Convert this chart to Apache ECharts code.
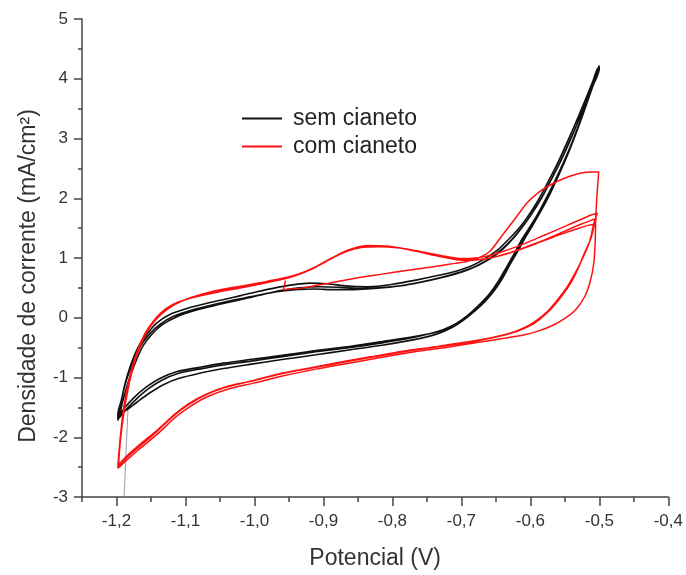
<!DOCTYPE html>
<html>
<head>
<meta charset="utf-8">
<script src="https://cdn.jsdelivr.net/npm/echarts@6/dist/echarts.min.js"></script>
<style>
  html, body { margin: 0; padding: 0; background: #fff; }
  #chart { width: 686px; height: 575px; }
</style>
</head>
<body>
<div id="chart"></div>
<script>
// Cyclic voltammograms: current density (mA/cm²) vs potential (V)

const seriesNames = ['sem cianeto', 'com cianeto'];
const xTickLabels = [-1.2, -1.1, -1.0, -0.9, -0.8, -0.7, -0.6, -0.5, -0.4];
const yTickLabels = [-3, -2, -1, 0, 1, 2, 3, 4, 5];

// first sweep start of the cyanide-free run (faint grey trace)
const semStart = [[-1.189, -3.0], [-1.186, -2.2], [-1.183, -1.45]];

// cyanide-free: three cycles, anodic branch then cathodic branch
const semCycle1 = [
  [-1.198,-1.72],[-1.194,-1.45],[-1.188,-1.12],[-1.179,-0.78],[-1.168,-0.48],[-1.155,-0.26],[-1.141,-0.08],[-1.122,0.06],
  [-1.097,0.16],[-1.07,0.24],[-1.046,0.30],[-1.02,0.37],[-0.998,0.43],[-0.97,0.50],[-0.945,0.55],[-0.92,0.58],
  [-0.895,0.57],[-0.865,0.53],[-0.835,0.52],[-0.80,0.56],[-0.766,0.63],[-0.733,0.71],[-0.708,0.78],[-0.685,0.87],
  [-0.666,0.99],[-0.646,1.15],[-0.63,1.33],[-0.613,1.55],[-0.60,1.76],[-0.588,1.98],[-0.575,2.26],[-0.56,2.60],
  [-0.545,2.98],[-0.530,3.38],[-0.515,3.80],[-0.502,4.17],
  [-0.500,4.22],[-0.512,3.80],[-0.525,3.38],[-0.538,2.98],[-0.552,2.60],[-0.565,2.28],[-0.578,1.98],[-0.590,1.72],
  [-0.603,1.48],[-0.613,1.30],[-0.623,1.08],[-0.635,0.84],[-0.646,0.62],[-0.658,0.42],[-0.672,0.24],[-0.685,0.10],
  [-0.699,-0.03],[-0.715,-0.14],[-0.737,-0.24],[-0.77,-0.33],[-0.815,-0.42],[-0.863,-0.50],[-0.911,-0.57],[-0.96,-0.65],
  [-1.007,-0.73],[-1.045,-0.79],[-1.08,-0.86],[-1.11,-0.93],[-1.135,-1.05],[-1.155,-1.20],[-1.172,-1.37],[-1.187,-1.55],
  [-1.198,-1.70]
];
const semCycle2 = [
  [-1.198,-1.62],[-1.193,-1.38],[-1.186,-1.06],[-1.176,-0.74],[-1.165,-0.47],[-1.152,-0.27],[-1.137,-0.11],[-1.118,0.02],
  [-1.093,0.12],[-1.066,0.20],[-1.04,0.27],[-1.015,0.33],[-0.99,0.39],[-0.965,0.44],[-0.94,0.47],[-0.912,0.48],
  [-0.885,0.47],[-0.855,0.47],[-0.825,0.49],[-0.79,0.53],[-0.757,0.60],[-0.727,0.68],[-0.703,0.76],[-0.681,0.85],
  [-0.662,0.97],[-0.643,1.13],[-0.627,1.31],[-0.611,1.53],[-0.598,1.74],[-0.586,1.96],[-0.573,2.24],[-0.558,2.58],
  [-0.543,2.96],[-0.528,3.36],[-0.514,3.77],[-0.502,4.12],
  [-0.501,4.16],[-0.511,3.84],[-0.523,3.44],[-0.536,3.04],[-0.549,2.66],[-0.562,2.32],[-0.575,2.02],[-0.587,1.76],
  [-0.600,1.50],[-0.611,1.30],[-0.621,1.08],[-0.632,0.86],[-0.643,0.64],[-0.655,0.44],[-0.669,0.25],[-0.683,0.10],
  [-0.697,-0.04],[-0.713,-0.16],[-0.735,-0.27],[-0.77,-0.37],[-0.815,-0.46],[-0.863,-0.54],[-0.911,-0.62],[-0.96,-0.70],
  [-1.007,-0.78],[-1.045,-0.85],[-1.08,-0.93],[-1.108,-1.01],[-1.132,-1.12],[-1.152,-1.26],[-1.17,-1.41],[-1.186,-1.55],
  [-1.198,-1.64]
];
const semCycle3 = [
  [-1.197,-1.66],[-1.191,-1.40],[-1.183,-1.08],[-1.173,-0.76],[-1.162,-0.48],[-1.149,-0.28],[-1.134,-0.12],[-1.114,0.01],
  [-1.09,0.11],[-1.063,0.19],[-1.037,0.26],[-1.01,0.33],[-0.985,0.40],[-0.96,0.46],[-0.935,0.50],[-0.905,0.52],
  [-0.878,0.51],[-0.85,0.49],[-0.82,0.50],[-0.785,0.54],[-0.752,0.61],[-0.722,0.69],[-0.698,0.77],[-0.677,0.87],
  [-0.658,0.99],[-0.64,1.15],[-0.624,1.34],[-0.609,1.56],[-0.596,1.78],[-0.584,2.00],[-0.571,2.28],[-0.556,2.62],
  [-0.541,3.00],[-0.527,3.40],[-0.513,3.82],[-0.501,4.19],
  [-0.500,4.18],[-0.510,3.86],[-0.522,3.46],[-0.534,3.08],[-0.547,2.70],[-0.560,2.36],[-0.572,2.06],[-0.584,1.80],
  [-0.597,1.54],[-0.608,1.33],[-0.618,1.12],[-0.629,0.90],[-0.640,0.67],[-0.652,0.46],[-0.666,0.27],[-0.68,0.12],
  [-0.695,-0.02],[-0.711,-0.13],[-0.733,-0.23],[-0.77,-0.32],[-0.815,-0.40],[-0.863,-0.48],[-0.911,-0.55],[-0.96,-0.63],
  [-1.007,-0.70],[-1.045,-0.76],[-1.08,-0.83],[-1.112,-0.90],[-1.138,-1.02],[-1.158,-1.17],[-1.175,-1.34],[-1.189,-1.52],
  [-1.197,-1.66]
];

// with cyanide: first sweep from the rest potential up to -0.5 V
const comStart = [
  [-0.955,0.62],[-0.958,0.47],[-0.93,0.50],[-0.887,0.59],[-0.85,0.67],[-0.815,0.73],[-0.78,0.79],[-0.743,0.85],
  [-0.71,0.91],[-0.685,0.96],[-0.66,1.10],[-0.642,1.36],[-0.622,1.66],[-0.605,1.92],[-0.588,2.10],[-0.565,2.26],
  [-0.545,2.36],[-0.528,2.42],[-0.512,2.44],[-0.501,2.44]
];
// with cyanide: three cycles, cathodic branch then anodic branch
const comCycle1 = [
  [-0.505,1.75],[-0.506,1.30],[-0.508,0.92],[-0.513,0.62],[-0.521,0.36],[-0.534,0.14],[-0.55,-0.01],[-0.568,-0.13],
  [-0.588,-0.22],[-0.61,-0.29],[-0.636,-0.34],[-0.675,-0.41],[-0.718,-0.49],[-0.768,-0.57],[-0.815,-0.66],[-0.863,-0.76],
  [-0.911,-0.86],[-0.958,-0.97],[-1.0,-1.09],[-1.04,-1.20],[-1.07,-1.33],[-1.094,-1.49],[-1.115,-1.67],[-1.14,-1.94],
  [-1.165,-2.18],[-1.184,-2.37],[-1.198,-2.52],
  [-1.195,-2.10],[-1.188,-1.50],[-1.178,-0.92],[-1.168,-0.55],[-1.158,-0.28],[-1.147,-0.09],[-1.135,0.06],[-1.117,0.21],
  [-1.096,0.32],[-1.07,0.40],[-1.046,0.46],[-1.02,0.51],[-0.998,0.56],[-0.975,0.62],[-0.95,0.68],[-0.93,0.76],
  [-0.91,0.86],[-0.888,1.0],[-0.865,1.13],[-0.84,1.20],[-0.815,1.20],[-0.79,1.17],[-0.765,1.12],[-0.743,1.07],
  [-0.72,1.02],[-0.70,0.99],[-0.68,1.0],[-0.66,1.04],[-0.64,1.11],[-0.613,1.22],[-0.58,1.38],[-0.55,1.53],
  [-0.528,1.64],[-0.512,1.72],[-0.503,1.75]
];
const comCycle2 = [
  [-0.505,1.68],[-0.512,1.34],[-0.521,1.10],[-0.531,0.82],[-0.54,0.61],[-0.554,0.37],[-0.569,0.16],[-0.585,-0.01],
  [-0.598,-0.12],[-0.62,-0.23],[-0.645,-0.31],[-0.675,-0.38],[-0.718,-0.46],[-0.768,-0.54],[-0.815,-0.63],[-0.863,-0.73],
  [-0.911,-0.83],[-0.958,-0.93],[-1.0,-1.05],[-1.04,-1.15],[-1.07,-1.28],[-1.094,-1.43],[-1.115,-1.61],[-1.14,-1.87],
  [-1.165,-2.11],[-1.184,-2.30],[-1.197,-2.46],
  [-1.194,-2.02],[-1.187,-1.42],[-1.177,-0.86],[-1.167,-0.50],[-1.157,-0.24],[-1.145,-0.05],[-1.132,0.10],[-1.113,0.24],
  [-1.092,0.34],[-1.068,0.42],[-1.044,0.48],[-1.018,0.53],[-0.995,0.58],[-0.972,0.63],[-0.948,0.69],[-0.927,0.77],
  [-0.906,0.88],[-0.884,1.02],[-0.861,1.14],[-0.836,1.21],[-0.81,1.20],[-0.785,1.16],[-0.76,1.10],[-0.738,1.04],
  [-0.716,0.99],[-0.695,0.96],[-0.675,0.97],[-0.655,1.01],[-0.635,1.07],[-0.61,1.17],[-0.578,1.31],[-0.55,1.45],
  [-0.528,1.56],[-0.512,1.63],[-0.504,1.66]
];
const comCycle3 = [
  [-0.507,1.62],[-0.514,1.28],[-0.524,1.00],[-0.535,0.75],[-0.546,0.53],[-0.56,0.31],[-0.575,0.11],[-0.592,-0.05],
  [-0.608,-0.16],[-0.63,-0.26],[-0.655,-0.33],[-0.69,-0.40],[-0.735,-0.48],[-0.785,-0.56],[-0.83,-0.65],[-0.875,-0.74],
  [-0.92,-0.84],[-0.965,-0.94],[-1.005,-1.06],[-1.043,-1.17],[-1.072,-1.30],[-1.096,-1.46],[-1.118,-1.65],[-1.142,-1.91],
  [-1.166,-2.15],[-1.185,-2.34],[-1.198,-2.49],
  [-1.195,-2.06],[-1.189,-1.46],[-1.179,-0.90],[-1.169,-0.53],[-1.159,-0.27],[-1.148,-0.08],[-1.136,0.08],[-1.119,0.22],
  [-1.098,0.31],[-1.073,0.38],[-1.049,0.44],[-1.024,0.49],[-1.002,0.54],[-0.978,0.60],[-0.953,0.66],[-0.932,0.74],
  [-0.912,0.84],[-0.89,0.98],[-0.867,1.11],[-0.843,1.18],[-0.818,1.19],[-0.793,1.17],[-0.768,1.12],[-0.746,1.07],
  [-0.724,1.02],[-0.703,0.98],[-0.683,0.97],[-0.663,0.99],[-0.643,1.04],[-0.618,1.13],[-0.585,1.27],[-0.555,1.40],
  [-0.532,1.49],[-0.515,1.55],[-0.505,1.57]
];

const semData = semCycle1.concat(semCycle2, semCycle3);
const comData = comStart.concat(comCycle1, comCycle2, comCycle3);

const AXIS_COLOR = '#444';
const TEXT_COLOR = '#333';
const FONT = '"Liberation Sans", Arial, sans-serif';

const fmtX = v => v.toFixed(1).replace('.', ',');

const chart = echarts.init(document.getElementById('chart'), null, { renderer: 'canvas' });
chart.setOption({
  animation: false,
  backgroundColor: '#fff',
  textStyle: { fontFamily: FONT },
  grid: { left: 82, right: 15, top: 19, bottom: 76, containLabel: false },
  legend: {
    data: seriesNames,
    orient: 'vertical',
    left: 237,
    top: 102,
    padding: 5,
    itemWidth: 40,
    itemHeight: 16,
    itemGap: 5,
    icon: 'path://M0,7 L40,7 L40,9 L0,9 Z',
    textStyle: { fontFamily: FONT, fontSize: 23, color: '#222', padding: [0, 0, 0, 6] }
  },
  xAxis: [
    {
      type: 'value',
      min: -1.25,
      max: -0.4,
      interval: 0.05,
      axisLine: { show: true, onZero: false, lineStyle: { color: AXIS_COLOR, width: 1.5 } },
      axisTick: { show: true, length: 5, lineStyle: { color: AXIS_COLOR, width: 1.5 } },
      axisLabel: { show: false },
      splitLine: { show: false },
      name: 'Potencial (V)',
      nameLocation: 'middle',
      nameGap: 50,
      nameTextStyle: { fontFamily: FONT, fontSize: 23, color: TEXT_COLOR }
    },
    {
      type: 'value',
      min: -1.25,
      max: -0.4,
      position: 'bottom',
      axisLine: { show: false, onZero: false },
      axisTick: { show: true, length: 9, customValues: xTickLabels, lineStyle: { color: AXIS_COLOR, width: 1.5 } },
      axisLabel: {
        show: true,
        customValues: xTickLabels,
        margin: 16,
        formatter: fmtX,
        fontFamily: FONT,
        fontSize: 17,
        color: TEXT_COLOR
      },
      splitLine: { show: false }
    }
  ],
  yAxis: {
    type: 'value',
    min: -3,
    max: 5,
    interval: 1,
    axisLine: { show: true, onZero: false, lineStyle: { color: AXIS_COLOR, width: 1.5 } },
    axisTick: { show: true, length: 8, lineStyle: { color: AXIS_COLOR, width: 1.5 } },
    minorTick: { show: true, splitNumber: 2, length: 4, lineStyle: { color: AXIS_COLOR, width: 1.5 } },
    axisLabel: {
      margin: 14,
      fontFamily: FONT,
      fontSize: 17,
      color: TEXT_COLOR,
      formatter: v => String(v)
    },
    splitLine: { show: false },
    minorSplitLine: { show: false },
    name: 'Densidade de corrente (mA/cm²)',
    nameLocation: 'middle',
    nameGap: 42,
    nameTextStyle: { fontFamily: FONT, fontSize: 23, color: TEXT_COLOR, padding: [0, 36, 0, 0] }
  },
  series: [
    {
      name: seriesNames[0],
      type: 'line',
      xAxisIndex: 0,
      data: semData,
      showSymbol: false,
      symbol: 'none',
      smooth: 0.3,
      lineStyle: { color: '#111', width: 1.6 },
      itemStyle: { color: '#111' },
      z: 3
    },
    {
      name: 'start',
      type: 'line',
      xAxisIndex: 0,
      data: semStart,
      showSymbol: false,
      symbol: 'none',
      lineStyle: { color: '#9a9a9a', width: 1 },
      z: 2
    },
    {
      name: seriesNames[1],
      type: 'line',
      xAxisIndex: 0,
      data: comData,
      showSymbol: false,
      symbol: 'none',
      smooth: 0.3,
      lineStyle: { color: '#ff1010', width: 1.5 },
      itemStyle: { color: '#ff1010' },
      z: 4
    }
  ]
});
</script>
</body>
</html>
